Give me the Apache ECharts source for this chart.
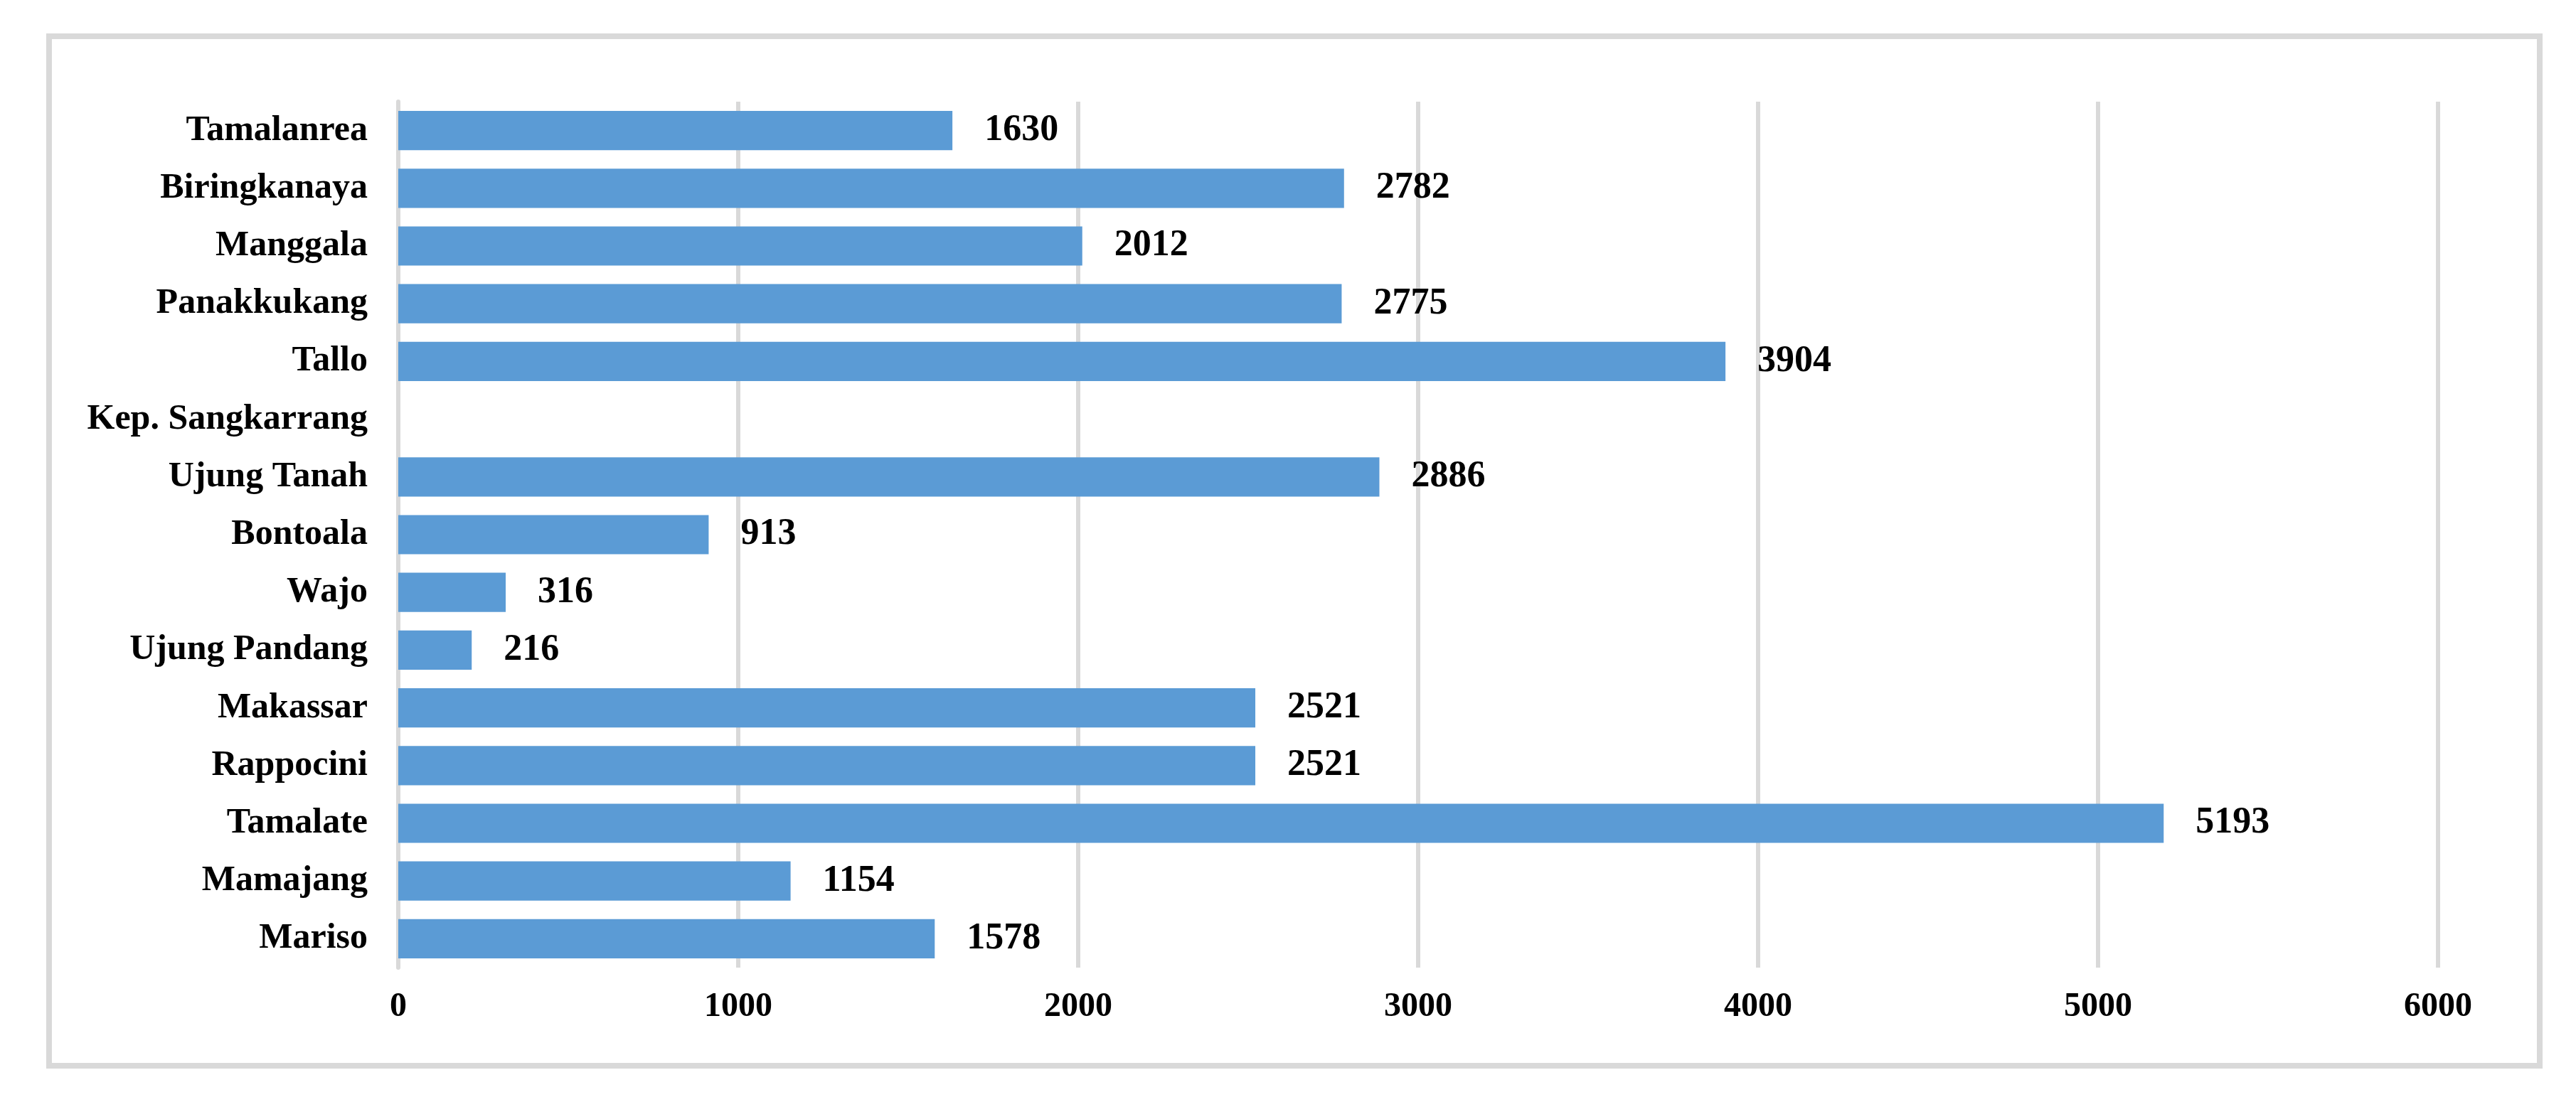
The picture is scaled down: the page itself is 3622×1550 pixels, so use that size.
<!DOCTYPE html>
<html>
<head>
<meta charset="utf-8">
<script src="https://cdn.jsdelivr.net/npm/echarts@6/dist/echarts.min.js"></script>
<style>
html,body{margin:0;padding:0;background:#fff;}
#chart{width:3622px;height:1550px;}
</style>
</head>
<body>
<div id="chart"></div>
<script>
const categories = ['Tamalanrea','Biringkanaya','Manggala','Panakkukang','Tallo','Kep. Sangkarrang','Ujung Tanah','Bontoala','Wajo','Ujung Pandang','Makassar','Rappocini','Tamalate','Mamajang','Mariso'];
const values = [1630, 2782, 2012, 2775, 3904, null, 2886, 913, 316, 216, 2521, 2521, 5193, 1154, 1578];
const xTicks = [0, 1000, 2000, 3000, 4000, 5000, 6000];

const chart = echarts.init(document.getElementById('chart'));
const font = 'Liberation Serif';
chart.setOption({
  backgroundColor: '#ffffff',
  animation: false,
  graphic: [{
    type: 'rect',
    shape: {x: 69, y: 51, width: 3502, height: 1448},
    style: {fill: 'none', stroke: '#d9d9d9', lineWidth: 8},
    silent: true
  }],
  grid: {left: 560, top: 143, width: 2868, height: 1218, containLabel: false},
  xAxis: {
    type: 'value',
    min: xTicks[0],
    max: xTicks[xTicks.length - 1],
    interval: 1000,
    axisLine: {show: false},
    axisTick: {show: false},
    splitLine: {show: true, lineStyle: {color: '#d9d9d9', width: 6}},
    axisLabel: {fontFamily: font, fontWeight: 'bold', fontSize: 48, color: '#000', margin: 32,
      formatter: function (v) { return String(v); }}
  },
  yAxis: {
    type: 'category',
    data: categories,
    inverse: true,
    axisLine: {show: true, lineStyle: {color: '#d9d9d9', width: 6}},
    axisTick: {show: false},
    axisLabel: {fontFamily: font, fontWeight: 'bold', fontSize: 50, color: '#000', margin: 43}
  },
  series: [{
    type: 'bar',
    data: values,
    barCategoryGap: '32%',
    itemStyle: {color: '#5b9bd5'},
    label: {
      show: true,
      position: 'right',
      distance: 45,
      fontFamily: font,
      fontWeight: 'bold',
      fontSize: 52,
      color: '#000'
    }
  }]
});
</script>
</body>
</html>
